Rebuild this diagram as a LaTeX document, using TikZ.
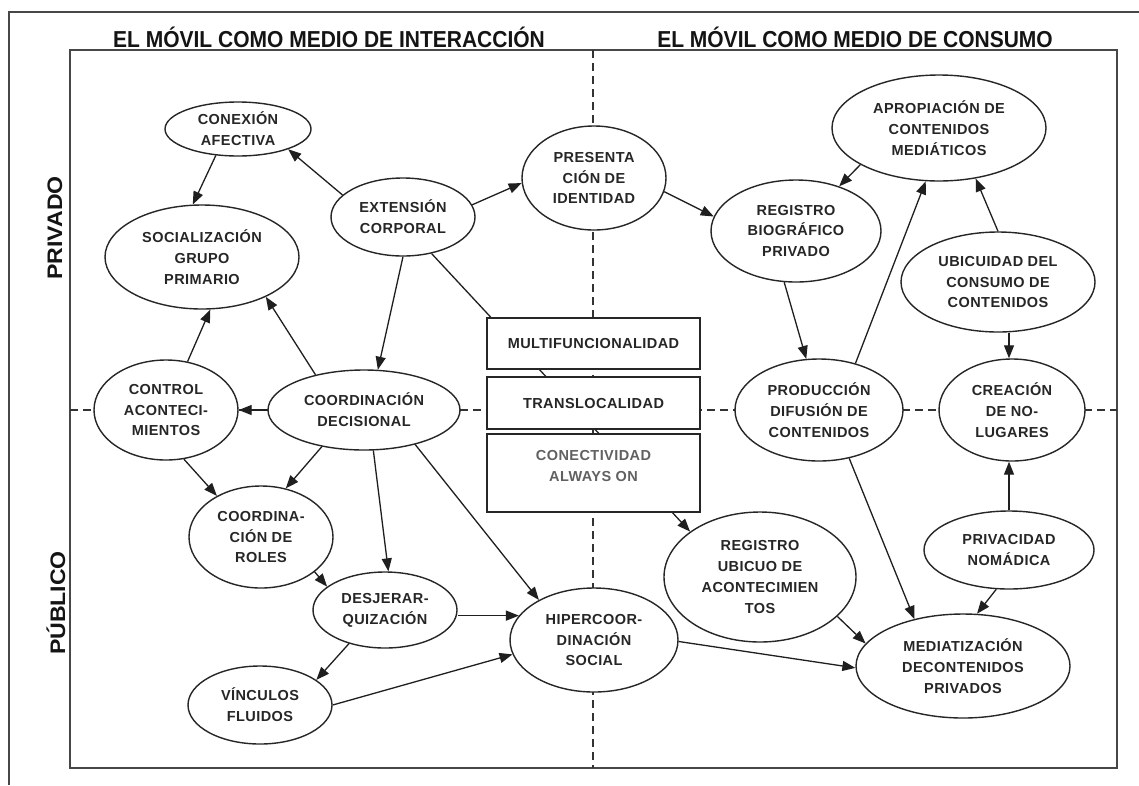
\documentclass[tikz,border=0pt]{standalone}
\usepackage{fontspec}
\setmainfont{Liberation Sans}
\newfontfamily\nodefont[LetterSpace=3]{Liberation Sans}
\usetikzlibrary{arrows.meta,shapes.geometric}

\begin{document}
\begin{tikzpicture}[x=1pt,y=-1pt,
  frame/.style={draw=black!72,line width=1.8pt},
  divider/.style={draw=black!80,line width=1.3pt,dash pattern=on 8pt off 5pt},
  heading/.style={inner sep=0pt,font=\bfseries\fontsize{21}{25}\selectfont,text=black!92},
  oval/.style={ellipse,draw=black!85,line width=1.4pt,fill=white,inner sep=0pt,
    align=center,text=black!85,font=\nodefont\bfseries\fontsize{14.5}{20.8}\selectfont},
  featbox/.style={rectangle,draw=black!85,line width=1.4pt,fill=white,inner sep=0pt,
    align=center,minimum width=213pt,text=black!85,font=\nodefont\bfseries\fontsize{14.5}{20.8}\selectfont},
  arr/.style={draw=black!88,line width=1.3pt,-{Triangle[length=13pt,width=10pt]}}
]
\useasboundingbox (0,0) rectangle (1139,785);
\fill[white] (0,0) rectangle (1139,785);

% outer and inner frames
\draw[frame] (9,785) -- (9,12) -- (1139,12);
\draw[frame] (70,50) rectangle (1117,768);

% quadrant dividers
\draw[divider] (593,50) -- (593,768);
\draw[divider] (70,410) -- (1117,410);

% headings and side labels
\node[heading] (headA) at (329,37) {\scalebox{1}[1.1]{EL MÓVIL COMO MEDIO DE INTERACCIÓN}};
\node[heading] (headB) at (855,37) {\scalebox{1}[1.1]{EL MÓVIL COMO MEDIO DE CONSUMO}};
\node[heading,rotate=90] (privado) at (55,228) {\scalebox{1.1}[1]{PRIVADO}};
\node[heading,rotate=90] (publico) at (56,603) {\scalebox{1.1}[1]{PÚBLICO}};

% ellipses
\node[oval,minimum width=146pt,minimum height=54pt] (conex) at (238,129) {CONEXIÓN\\AFECTIVA};
\node[oval,minimum width=194pt,minimum height=104pt] (social) at (202,257) {SOCIALIZACIÓN\\GRUPO\\PRIMARIO};
\node[oval,minimum width=144pt,minimum height=78pt] (ext) at (403,217) {EXTENSIÓN\\CORPORAL};
\node[oval,minimum width=144pt,minimum height=104pt] (pres) at (594,178) {PRESENTA\\CIÓN DE\\IDENTIDAD};
\node[oval,minimum width=214pt,minimum height=106pt] (aprop) at (939,128) {APROPIACIÓN DE\\CONTENIDOS\\MEDIÁTICOS};
\node[oval,minimum width=170pt,minimum height=102pt] (regbio) at (796,231) {REGISTRO\\BIOGRÁFICO\\PRIVADO};
\node[oval,minimum width=194pt,minimum height=100pt] (ubic) at (998,282) {UBICUIDAD DEL\\CONSUMO DE\\CONTENIDOS};
\node[oval,minimum width=144pt,minimum height=100pt] (control) at (166,410) {CONTROL\\ACONTECI-\\MIENTOS};
\node[oval,minimum width=192pt,minimum height=80pt] (coord) at (364,410) {COORDINACIÓN\\DECISIONAL};
\node[oval,minimum width=168pt,minimum height=102pt] (prod) at (819,410) {PRODUCCIÓN\\DIFUSIÓN DE\\CONTENIDOS};
\node[oval,minimum width=146pt,minimum height=102pt] (crea) at (1012,410) {CREACIÓN\\DE NO-\\LUGARES};
\node[oval,minimum width=144pt,minimum height=102pt] (roles) at (261,537) {COORDINA-\\CIÓN DE\\ROLES};
\node[oval,minimum width=144pt,minimum height=76pt] (desj) at (385,610) {DESJERAR-\\QUIZACIÓN};
\node[oval,minimum width=144pt,minimum height=78pt] (vinc) at (260,705) {VÍNCULOS\\FLUIDOS};
\node[oval,minimum width=168pt,minimum height=104pt] (hiper) at (594,640) {HIPERCOOR-\\DINACIÓN\\SOCIAL};
\node[oval,minimum width=192pt,minimum height=130pt] (regubi) at (760,577) {REGISTRO\\UBICUO DE\\ACONTECIMIEN\\TOS};
\node[oval,minimum width=214pt,minimum height=104pt] (medi) at (963,666) {MEDIATIZACIÓN\\DECONTENIDOS\\PRIVADOS};
\node[oval,minimum width=170pt,minimum height=78pt] (priv) at (1009,550) {PRIVACIDAD\\NOMÁDICA};

% this connector runs behind the three feature boxes
\draw[arr] (ext.308) -- (regubi.147);

% feature boxes
\node[featbox,minimum height=51pt] (multi) at (593.5,343.5) {MULTIFUNCIONALIDAD};
\node[featbox,minimum height=52pt] (trans) at (593.5,403) {TRANSLOCALIDAD};
\node[featbox,minimum height=78pt,text=black!62] (conect) at (593.5,473)
  {CONECTIVIDAD\\ALWAYS ON\\[-7pt]\mbox{}};

% connectors
\draw[arr] (ext.160) -- (conex.338);
\draw[arr] (conex.230) -- (social.100);
\draw[arr] (ext.10) -- (pres.184);
\draw[arr] (pres.349) -- (regbio.170);
\draw[arr] (ext.270) -- (coord.71);
\draw[arr] (coord.144) -- (social.328);
\draw[arr] (control.66) -- (social.279);
\draw[arr] (coord.west) -- (control.east);
\draw[arr] (control.290) -- (roles.137);
\draw[arr] (coord.221) -- (roles.63);
\draw[arr] (coord.283) -- (desj.85);
\draw[arr] (coord.326) -- (hiper.144);
\draw[arr] (roles.327) -- (desj.158);
\draw[arr] (desj.east |- hiper.162) -- (hiper.162);
\draw[arr] (desj.223) -- (vinc.24);
\draw[arr] (vinc.east) -- (hiper.190);
\draw[arr] (hiper.359) -- (medi.181);
\draw[arr] (regubi.333) -- (medi.167);
\draw[arr] (prod.302) -- (medi.136);
\draw[arr] (prod.52) -- (aprop.256);
\draw[arr] (regbio.257) -- (prod.104);
\draw[arr] (aprop.205) -- (regbio.46);
\draw[arr] (ubic.90) -- (aprop.306);
\draw[arr] (ubic.south -| priv.north) -- (crea.north -| priv.north);
\draw[arr] (priv.north) -- (crea.south -| priv.north);
\draw[arr] (priv.252) -- (medi.75);
\end{tikzpicture}
\end{document}
